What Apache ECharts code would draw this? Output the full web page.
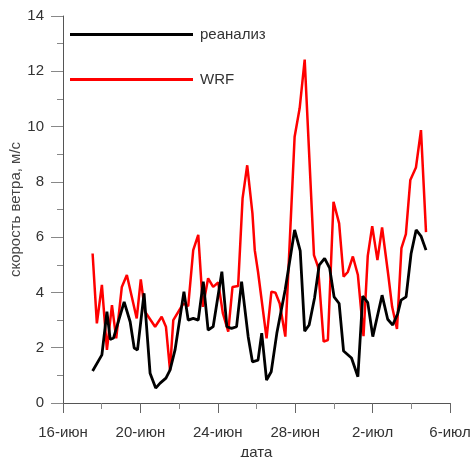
<!DOCTYPE html>
<html>
<head>
<meta charset="utf-8">
<script src="https://cdn.jsdelivr.net/npm/echarts@6/dist/echarts.min.js"></script>
<style>html,body{margin:0;padding:0;background:#fff}#c{width:473px;height:457px}</style>
</head>
<body>
<div id="c"></div>
<script>
// days counted from 1 June (31 = 1 July)
var reanDays = [17.53,18.01,18.27,18.44,18.61,19.16,19.47,19.68,19.85,20.19,20.5,20.79,21.02,21.32,21.53,21.79,22.25,22.47,22.73,22.99,23.25,23.5,23.76,24.21,24.47,24.71,24.97,25.23,25.57,25.79,26.08,26.27,26.52,26.76,27.05,27.48,27.97,28.26,28.49,28.72,29.0,29.24,29.52,29.78,30.01,30.27,30.5,30.91,31.24,31.49,31.75,32.01,32.49,32.78,33.04,33.3,33.47,33.73,33.99,34.25,34.5,34.76];
var reanValues = [1.16,1.74,3.3,2.3,2.35,3.66,2.94,1.99,1.92,3.97,1.08,0.54,0.72,0.9,1.19,1.92,4.03,3.0,3.06,3.0,4.39,2.64,2.76,4.75,2.76,2.7,2.76,4.39,2.4,1.49,1.55,2.53,0.83,1.13,2.52,4.09,6.26,5.5,2.6,2.82,3.8,4.99,5.23,4.88,3.84,3.6,1.88,1.63,0.95,3.87,3.63,2.4,3.9,3.03,2.82,3.24,3.72,3.84,5.41,6.26,6.04,5.53];
var wrfDays = [17.53,17.75,18.01,18.27,18.53,18.75,19.04,19.3,19.81,20.02,20.24,20.76,21.1,21.32,21.53,21.7,22.22,22.47,22.73,22.99,23.23,23.5,23.76,24.02,24.26,24.54,24.76,25.05,25.28,25.52,25.79,25.91,26.08,26.52,26.77,26.98,27.2,27.49,27.97,28.23,28.49,28.97,29.18,29.47,29.69,29.98,30.27,30.5,30.72,30.98,31.24,31.53,31.75,31.98,32.25,32.49,32.81,33.01,33.26,33.49,33.72,33.95,34.24,34.5,34.76];
var wrfValues = [5.41,2.88,4.27,1.92,3.54,2.34,4.2,4.63,3.06,4.47,3.3,2.76,3.12,2.76,1.19,3.0,3.6,3.5,5.53,6.08,3.48,4.51,4.2,4.36,3.25,2.58,4.2,4.23,7.4,8.6,6.86,5.53,4.74,2.34,4.03,3.99,3.6,2.4,9.63,10.66,12.42,5.35,4.93,2.22,2.28,7.28,6.5,4.57,4.74,5.3,4.63,2.42,5.32,6.4,5.17,6.35,4.63,3.48,2.68,5.6,6.11,8.07,8.52,9.87,6.18];
var seriesNames = ['реанализ', 'WRF'];
var yTitle = 'скорость ветра, м/с';
var xTitle = 'дата';

function zip(a, b) { return a.map(function (d, i) { return [d, b[i]]; }); }
function dayLabel(v) {
  return v <= 30 ? (v + '-июн') : ((v - 30) + '-июл');
}

var font = 'Liberation Sans, Arial, sans-serif';
var chart = echarts.init(document.getElementById('c'));
chart.setOption({
  animation: false,
  backgroundColor: '#fff',
  textStyle: { fontFamily: font },
  grid: { left: 63, right: 23, top: 16, bottom: 54, containLabel: false, outerBoundsMode: 'none' },
  legend: {
    orient: 'vertical', left: 65, top: 22, itemWidth: 123, itemHeight: 3, itemGap: 30,
    icon: 'rect',
    textStyle: { fontFamily: font, fontSize: 15, color: '#333', padding: [0, 0, 0, 2] },
    data: seriesNames
  },
  xAxis: {
    type: 'value', min: 16, max: 36, interval: 4,
    name: xTitle, nameLocation: 'middle', nameGap: 42, nameMoveOverlap: false,
    nameTextStyle: { fontFamily: font, fontSize: 15, color: '#333' },
    axisLine: { lineStyle: { color: '#555', width: 1 } },
    axisTick: { show: true, length: 10, lineStyle: { color: '#666' } },
    minorTick: { show: true, splitNumber: 2, length: 6, lineStyle: { color: '#888' } },
    splitLine: { show: false },
    axisLabel: { fontFamily: font, fontSize: 15, color: '#333', margin: 22, formatter: dayLabel }
  },
  yAxis: {
    type: 'value', min: 0, max: 14, interval: 2,
    name: yTitle, nameLocation: 'middle', nameGap: 40, nameMoveOverlap: false,
    nameTextStyle: { fontFamily: font, fontSize: 15, color: '#444' },
    axisLine: { show: true, lineStyle: { color: '#555', width: 1 } },
    axisTick: { show: true, length: 12, lineStyle: { color: '#888' } },
    minorTick: { show: true, splitNumber: 2, length: 6, lineStyle: { color: '#888' } },
    splitLine: { show: false },
    axisLabel: { fontFamily: font, fontSize: 15, color: '#333', margin: 19 }
  },
  series: [
    { name: seriesNames[0], type: 'line', data: zip(reanDays, reanValues), symbol: 'none',
      lineStyle: { color: '#000', width: 2.8 }, itemStyle: { color: '#000' }, z: 3 },
    { name: seriesNames[1], type: 'line', data: zip(wrfDays, wrfValues), symbol: 'none',
      lineStyle: { color: '#ff0000', width: 2.5 }, itemStyle: { color: '#ff0000' }, z: 2 }
  ]
});
</script>
</body>
</html>
